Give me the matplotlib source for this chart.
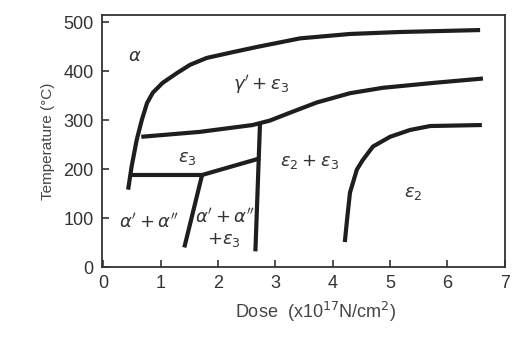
import matplotlib
matplotlib.use("Agg")
import matplotlib.pyplot as plt
import numpy as np

plt.rcParams['font.family'] = ['Liberation Sans', 'DejaVu Sans']
plt.rcParams['mathtext.fontset'] = 'dejavusans'

# phase boundaries (dose x1e17 N/cm2, temperature C)
alpha_x = [0.43, 0.49, 0.58, 0.67, 0.76, 0.86, 1.03, 1.28, 1.51, 1.80, 2.26, 2.70, 3.43, 4.30, 5.17, 6.57]
alpha_y = [158, 205, 260, 301, 335, 356, 376, 396, 413, 427, 439, 450, 467, 476, 480, 484]

gamma_x = [0.66, 1.68, 2.60, 2.90, 3.25, 3.72, 4.30, 4.87, 5.75, 6.62]
gamma_y = [266, 276, 290, 299, 315, 336, 355, 366, 376, 385]

eps2_x = [4.21, 4.25, 4.30, 4.42, 4.52, 4.70, 5.00, 5.35, 5.70, 6.60]
eps2_y = [51, 98, 152, 199, 218, 246, 266, 280, 288, 290]

eps3_x = [0.46, 1.72, 2.73]
eps3_y = [188, 188, 222]

split1_x = [1.72, 1.41]
split1_y = [188, 40]

split2_x = [2.73, 2.65]
split2_y = [292, 32]

labels = [r'$\alpha$', r"$\gamma'+\epsilon_3$", r'$\epsilon_3$', r'$\epsilon_2+\epsilon_3$',
          r'$\epsilon_2$', r"$\alpha'+\alpha''$", r"$\alpha'+\alpha''$", r'$+\epsilon_3$']
label_x = [0.55, 2.75, 1.46, 3.6, 5.4, 0.8, 2.13, 2.1]
label_y = [430, 372, 222, 215, 150, 92, 103, 55]

fig = plt.figure(figsize=(5.14, 3.38), dpi=100)
ax = fig.add_axes([0.198, 0.210, 0.784, 0.746])

lc = '#1e1e1e'
for xs, ys in [(alpha_x, alpha_y), (gamma_x, gamma_y), (eps2_x, eps2_y),
               (eps3_x, eps3_y), (split1_x, split1_y), (split2_x, split2_y)]:
    ax.plot(xs, ys, color=lc, lw=3, solid_capstyle='butt', solid_joinstyle='round')

for t, x, y in zip(labels, label_x, label_y):
    ax.text(x, y, t, ha='center', va='center', fontsize=13, color='#333333')

ax.set_xlim(-0.03, 7)
ax.set_ylim(0, 515)
ax.set_xticks(range(0, 8))
ax.set_yticks(range(0, 501, 100))
ax.tick_params(direction='in', length=5, width=1.2, labelsize=13, colors='#333333',
               top=False, right=False, pad=6)
for s in ax.spines.values():
    s.set_linewidth(1.3)
    s.set_color('#333333')

ax.set_xlabel(r'Dose  (x10$^{17}$N/cm$^{2}$)', fontsize=13, color='#444444', labelpad=5)
ax.xaxis.set_label_coords(0.53, -0.13)
ax.set_ylabel('Temperature (°C)', fontsize=11, color='#444444', labelpad=6)

plt.savefig('out.png', dpi=100)
